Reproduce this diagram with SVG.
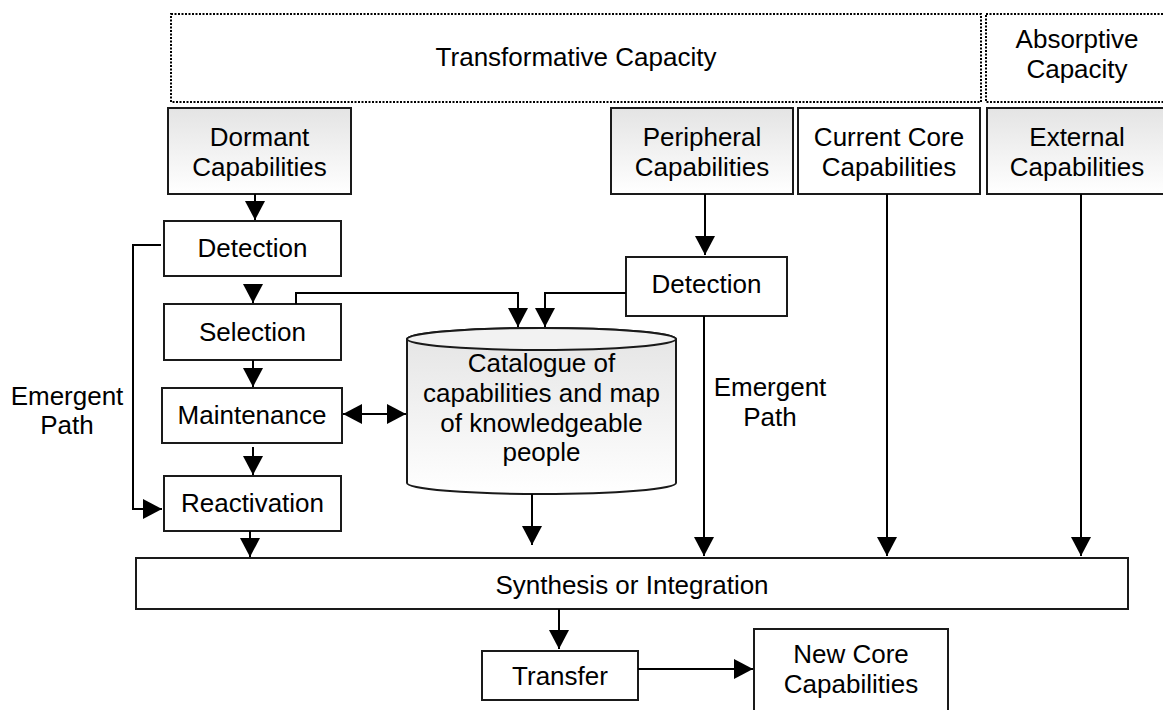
<svg xmlns="http://www.w3.org/2000/svg" width="1163" height="710" viewBox="0 0 1163 710">
<defs>
<linearGradient id="g" x1="0" y1="0" x2="0" y2="1">
<stop offset="0" stop-color="#e4e4e4"/>
<stop offset="1" stop-color="#ffffff"/>
</linearGradient>
<marker id="ah" markerUnits="userSpaceOnUse" viewBox="0 0 19 20" refX="19" refY="10" markerWidth="19" markerHeight="20" orient="auto">
<path d="M0,0 L19,10 L0,20 Z" fill="#000"/>
</marker>
<marker id="as" markerUnits="userSpaceOnUse" viewBox="0 0 19 20" refX="0" refY="10" markerWidth="19" markerHeight="20" orient="auto">
<path d="M19,0 L0,10 L19,20 Z" fill="#000"/>
</marker>
<style>
text{font-family:"Liberation Sans",Arial,sans-serif;font-size:26px;fill:#000;text-anchor:middle}
.box{fill:#fff;stroke:#1a1a1a;stroke-width:2}
.grad{fill:url(#g);stroke:#1a1a1a;stroke-width:2}
.dot{fill:none;stroke:#000;stroke-width:2;stroke-dasharray:2 1.5}
.c{fill:none;stroke:#000;stroke-width:2;marker-end:url(#ah)}
</style>
</defs>
<rect width="1163" height="710" fill="#fff"/>

<g id="transformative">
<rect class="dot" x="171" y="14" width="810" height="88"/>
<text x="576" y="66">Transformative Capacity</text>
</g>
<g id="absorptive">
<rect class="dot" x="986" y="14" width="190" height="88"/>
<text x="1077" y="48">Absorptive</text>
<text x="1077" y="78">Capacity</text>
</g>

<g id="dormant">
<rect class="grad" x="168" y="108" width="183" height="86"/>
<text x="259.5" y="146">Dormant</text>
<text x="259.5" y="176">Capabilities</text>
</g>
<g id="peripheral">
<rect class="grad" x="611" y="108" width="182" height="86"/>
<text x="702" y="146">Peripheral</text>
<text x="702" y="176">Capabilities</text>
</g>
<g id="currentcore">
<rect class="box" x="798" y="108" width="182" height="86"/>
<text x="889" y="146">Current Core</text>
<text x="889" y="176">Capabilities</text>
</g>
<g id="external">
<rect class="grad" x="987" y="108" width="180" height="86"/>
<text x="1077" y="146">External</text>
<text x="1077" y="176">Capabilities</text>
</g>

<g id="detection1">
<rect class="box" x="164" y="221" width="177" height="55"/>
<text x="252.5" y="257">Detection</text>
</g>
<g id="selection">
<rect class="box" x="164" y="304" width="177" height="56"/>
<text x="252.5" y="341">Selection</text>
</g>
<g id="maintenance">
<rect class="box" x="162" y="388" width="180" height="55"/>
<text x="252" y="424">Maintenance</text>
</g>
<g id="reactivation">
<rect class="box" x="164" y="476" width="177" height="55"/>
<text x="252.5" y="512">Reactivation</text>
</g>
<g id="detection2">
<rect class="box" x="626" y="257" width="161" height="59"/>
<text x="706.5" y="293">Detection</text>
</g>
<g id="catalogue">
<path class="grad" d="M407,339 L407,483 A134.5,11 0 0 0 676,483 L676,339 A134.5,11 0 0 0 407,339 Z"/>
<ellipse cx="541.5" cy="339" rx="134.5" ry="11" fill="#f2f2f2" stroke="#1a1a1a" stroke-width="2"/>
<text x="541.5" y="372">Catalogue of</text>
<text x="541.5" y="402">capabilities and map</text>
<text x="541.5" y="432">of knowledgeable</text>
<text x="541.5" y="461">people</text>
</g>
<g id="synthesis">
<rect class="box" x="136" y="558" width="992" height="51"/>
<text x="632" y="594">Synthesis or Integration</text>
</g>
<g id="transfer">
<rect class="box" x="482" y="651" width="156" height="49"/>
<text x="560" y="685">Transfer</text>
</g>
<g id="newcore">
<rect class="box" x="754" y="629" width="194" height="90"/>
<text x="851" y="663">New Core</text>
<text x="851" y="693">Capabilities</text>
</g>

<g id="labels">
<text x="67" y="405">Emergent</text>
<text x="67" y="434">Path</text>
<text x="770" y="396">Emergent</text>
<text x="770" y="426">Path</text>
</g>

<g id="connectors">
<path class="c" d="M255,194 L255,220"/>
<path class="c" d="M253,284 L253,303"/>
<path class="c" d="M253,360 L253,387"/>
<path class="c" d="M253,447 L253,475"/>
<path class="c" d="M250,531 L250,557"/>
<path class="c" d="M296,304 L296,293 L518,293 L518,327"/>
<path class="c" d="M626,293 L545,293 L545,327"/>
<path class="c" d="M161,245 L133,245 L133,509 L162,509"/>
<path class="c" style="marker-start:url(#as)" d="M343,414 L406,414"/>
<path class="c" d="M705,194 L705,255"/>
<path class="c" d="M532,494 L532,545"/>
<path class="c" d="M704,316 L704,556"/>
<path class="c" d="M887,194 L887,556"/>
<path class="c" d="M1081,194 L1081,556"/>
<path class="c" d="M559,609 L559,649"/>
<path class="c" d="M638,669 L753,669"/>
</g>
</svg>
